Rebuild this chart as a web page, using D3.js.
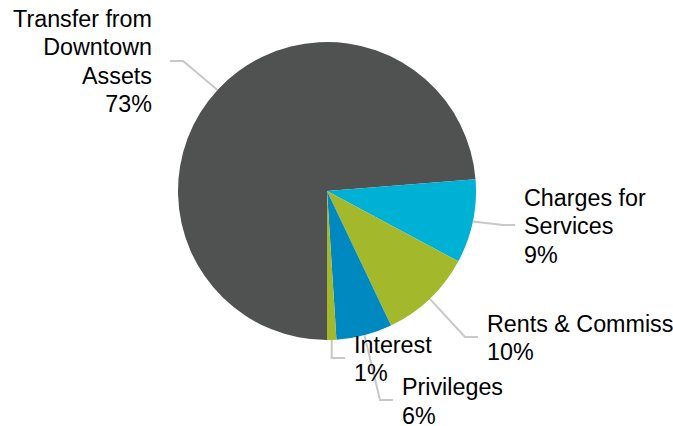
<!DOCTYPE html>
<html>
<head>
<meta charset="utf-8">
<script src="https://cdn.jsdelivr.net/npm/d3@7"></script>
<style>
  html, body { margin: 0; padding: 0; background: #fff; }
  svg { display: block; }
  text { font-family: "Liberation Sans", Arial, sans-serif; font-size: 23.3px; fill: #000; }
</style>
</head>
<body>
<svg id="chart" width="673" height="426"></svg>
<script>
// Revenue sources, in percent
const categories = ["Transfer from\nDowntown\nAssets", "Charges for\nServices", "Rents & Commissions", "Privileges", "Interest"];
const values = [73, 9, 10, 6, 1];
const colors = ["#505251", "#00b1d6", "#a3b82b", "#0089c1", "#a3b82b"];

// Label placement: leader elbow, leader end, text anchor point and alignment
const labelLayout = [
  { elbow: [183, 61],  end: [170, 61],  text: [152, 26.5], anchor: "end" },
  { elbow: [503, 225], end: [515, 225], text: [524, 205.5], anchor: "start" },
  { elbow: [465, 337], end: [478, 337], text: [487, 331.5], anchor: "start" },
  { elbow: [380, 400], end: [393, 400], text: [402, 395], anchor: "start" },
  { elbow: [331.7, 358], end: [345, 358], text: [354, 352.5], anchor: "start" }
];

const width = 673, height = 426;
const cx = 327, cy = 191, radius = 149;
const lineHeight = 28.6;

const svg = d3.select("#chart");
const g = svg.append("g").attr("transform", `translate(${cx},${cy})`);

const data = categories.map((c, i) => ({ name: c, value: values[i], color: colors[i], layout: labelLayout[i] }));

const pie = d3.pie()
  .value(d => d.value)
  .sort(null)
  .startAngle(Math.PI)
  .endAngle(3 * Math.PI);

const arcs = pie(data);

const arc = d3.arc().innerRadius(0).outerRadius(radius);
const edgeArc = d3.arc().innerRadius(radius).outerRadius(radius);

// Slices
g.selectAll("path.slice")
  .data(arcs)
  .join("path")
  .attr("class", "slice")
  .attr("d", arc)
  .attr("fill", d => d.data.color);

// Leader lines from the slice edge
const line = d3.line();
svg.selectAll("path.leader")
  .data(arcs)
  .join("path")
  .attr("class", "leader")
  .attr("fill", "none")
  .attr("stroke", "#c8c8c8")
  .attr("stroke-width", 2)
  .attr("d", d => {
    const [ex, ey] = edgeArc.centroid(d);
    return line([[cx + ex, cy + ey], d.data.layout.elbow, d.data.layout.end]);
  });

// Labels: name lines followed by the percentage
const labels = svg.selectAll("text.label")
  .data(arcs)
  .join("text")
  .attr("class", "label")
  .attr("text-anchor", d => d.data.layout.anchor)
  .attr("x", d => d.data.layout.text[0])
  .attr("y", d => d.data.layout.text[1]);

labels.each(function(d) {
  const lines = d.data.name.split("\n").concat([d.data.value + "%"]);
  d3.select(this).selectAll("tspan")
    .data(lines)
    .join("tspan")
    .attr("x", d.data.layout.text[0])
    .attr("dy", (t, i) => i === 0 ? 0 : lineHeight)
    .text(t => t);
});
</script>
</body>
</html>
